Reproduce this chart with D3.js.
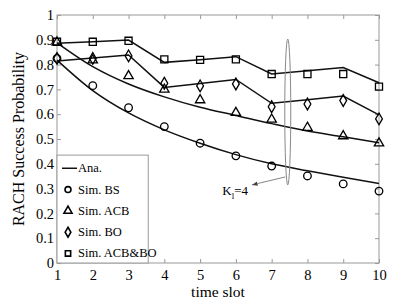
<!DOCTYPE html>
<html>
<head>
<meta charset="utf-8">
<script src="https://cdn.jsdelivr.net/npm/d3@7"></script>
<style>
body { margin: 0; background: #fff; }
svg text { font-family: "Times New Roman", "Liberation Serif", "DejaVu Serif", serif !important; }
</style>
</head>
<body>
<div id="chart"></div>
<script>
var slots = [1, 2, 3, 4, 5, 6, 7, 8, 9, 10];

// analytical curves
var anaBS     = [0.818, 0.695, 0.605, 0.537, 0.483, 0.437, 0.400, 0.372, 0.346, 0.321];
var anaACB    = [0.888, 0.792, 0.722, 0.670, 0.628, 0.595, 0.562, 0.532, 0.509, 0.485];
var anaBO     = [0.815, 0.827, 0.839, 0.708, 0.724, 0.740, 0.644, 0.658, 0.673, 0.597];
var anaACBBO  = [0.886, 0.892, 0.899, 0.809, 0.820, 0.832, 0.762, 0.775, 0.788, 0.727];

// simulation points
var simBS     = [0.825, 0.715, 0.626, 0.550, 0.483, 0.432, 0.391, 0.351, 0.319, 0.290];
var simACB    = [0.890, 0.818, 0.754, 0.700, 0.657, 0.606, 0.579, 0.546, 0.512, 0.483];
var simBO     = [0.825, 0.825, 0.835, 0.725, 0.714, 0.722, 0.630, 0.641, 0.655, 0.581];
var simACBBO  = [0.892, 0.892, 0.896, 0.821, 0.819, 0.821, 0.762, 0.762, 0.762, 0.711];

var yTicks = [0, 0.1, 0.2, 0.3, 0.4, 0.5, 0.6, 0.7, 0.8, 0.9, 1];
var legendNames = ["Ana.", "Sim. BS", "Sim. ACB", "Sim. BO", "Sim. ACB&BO"];

var margin = {top: 15, right: 36, bottom: 42, left: 57},
    width = 415 - margin.left - margin.right,
    height = 305 - margin.top - margin.bottom;

var x = d3.scaleLinear().domain([1, 10]).range([0, width]);
var y = d3.scaleLinear().domain([0, 1]).range([height, 0]);

var svg = d3.select("#chart").append("svg")
    .attr("width", 415)
    .attr("height", 305)
    .style("font-family", "Times New Roman, Liberation Serif, serif")
  .append("g")
    .attr("transform", "translate(" + margin.left + "," + margin.top + ")");

// box
svg.append("rect")
    .attr("width", width)
    .attr("height", height)
    .style("fill", "none")
    .style("stroke", "#999")
    .style("stroke-width", 1);

// axes (ticks pointing inward)
var xAxis = svg.append("g")
    .attr("transform", "translate(0," + height + ")")
    .call(d3.axisBottom(x).tickValues(slots).tickFormat(d3.format("d")).tickSizeInner(-4).tickSizeOuter(0).tickPadding(7));
var xTop = svg.append("g")
    .call(d3.axisTop(x).tickValues(slots).tickSizeInner(-4).tickSizeOuter(0).tickFormat(""));
var yAxis = svg.append("g")
    .call(d3.axisLeft(y).tickValues(yTicks).tickFormat(function(d) { return d === 0 || d === 1 ? d : d.toFixed(1); }).tickSizeInner(-4).tickSizeOuter(0).tickPadding(3));
var yRight = svg.append("g")
    .attr("transform", "translate(" + width + ",0)")
    .call(d3.axisRight(y).tickValues(yTicks).tickSizeInner(-4).tickSizeOuter(0).tickFormat(""));

[xAxis, xTop, yAxis, yRight].forEach(function(a) {
  a.attr("font-family", null);
  a.select(".domain").remove();
  a.selectAll("line").style("stroke", "#999");
  a.selectAll("text").style("font-size", "14.5px").style("fill", "#000");
});

// axis labels
svg.append("text")
    .attr("x", width / 2)
    .attr("y", height + 34)
    .attr("text-anchor", "middle")
    .style("font-size", "15.5px")
    .text("time slot");

svg.append("text")
    .attr("transform", "translate(-33," + (height / 2) + ") rotate(-90)")
    .attr("text-anchor", "middle")
    .style("font-size", "16px")
    .text("RACH Success Probability");

// analytical lines
var smooth = d3.line()
    .x(function(d, i) { return x(slots[i]); })
    .y(function(d) { return y(d); })
    .curve(d3.curveMonotoneX);
var straight = d3.line()
    .x(function(d, i) { return x(slots[i]); })
    .y(function(d) { return y(d); });

[[anaBS, smooth], [anaACB, smooth], [anaBO, straight], [anaACBBO, straight]].forEach(function(p) {
  svg.append("path")
      .datum(p[0])
      .attr("d", p[1])
      .style("fill", "none")
      .style("stroke", "#111")
      .style("stroke-width", 1.5);
});

// markers
var sym = {
  circle: d3.symbol().type(d3.symbolCircle).size(45),
  triangle: d3.symbol().type(d3.symbolTriangle).size(38),
  diamond: d3.symbol().type(d3.symbolDiamond).size(40),
  square: d3.symbol().type(d3.symbolSquare).size(50)
};

function drawMarkers(data, s) {
  svg.append("g").selectAll("path")
    .data(data)
    .enter().append("path")
      .attr("d", s)
      .attr("transform", function(d, i) { return "translate(" + x(slots[i]) + "," + y(d) + ")"; })
      .style("fill", "none")
      .style("stroke", "#000")
      .style("stroke-width", 1.3);
}
drawMarkers(simBS, sym.circle);
drawMarkers(simACB, sym.triangle);
drawMarkers(simBO, sym.diamond);
drawMarkers(simACBBO, sym.square);

// annotation: ellipse + arrow + K_l=4
svg.append("ellipse")
    .attr("cx", x(7.45))
    .attr("cy", (y(0.903) + y(0.315)) / 2)
    .attr("rx", 3)
    .attr("ry", (y(0.315) - y(0.903)) / 2)
    .style("fill", "none")
    .style("stroke", "#888")
    .style("stroke-width", 1);

svg.append("defs").append("marker")
    .attr("id", "arr")
    .attr("viewBox", "0 0 10 10")
    .attr("refX", 10).attr("refY", 5)
    .attr("markerWidth", 7).attr("markerHeight", 7)
    .attr("orient", "auto")
  .append("path")
    .attr("d", "M0,1L10,5L0,9z")
    .style("fill", "#444");

svg.append("line")
    .attr("x1", x(7.38)).attr("y1", y(0.347))
    .attr("x2", x(6.45)).attr("y2", y(0.315))
    .style("stroke", "#666")
    .style("stroke-width", 0.8)
    .attr("marker-end", "url(#arr)");

var kl = svg.append("text")
    .attr("x", x(5.62))
    .attr("y", y(0.275))
    .style("font-size", "13px");
kl.append("tspan").text("K");
kl.append("tspan").attr("dy", 4).style("font-size", "9px").text("l");
kl.append("tspan").attr("dy", -4).text("=4");

// legend
var lg = svg.append("g");
lg.append("rect")
    .attr("x", 0)
    .attr("y", y(0.435))
    .attr("width", x(3.55))
    .attr("height", height - y(0.435))
    .style("fill", "#fff")
    .style("stroke", "#999");

var legSyms = [null, sym.circle, sym.triangle, sym.diamond, sym.square];
legendNames.forEach(function(name, i) {
  var ly = y(0.382) + i * 21.3;
  if (i === 0) {
    lg.append("line")
        .attr("x1", 5).attr("x2", 20)
        .attr("y1", ly).attr("y2", ly)
        .style("stroke", "#111").style("stroke-width", 1.5);
  } else {
    lg.append("path")
        .attr("d", legSyms[i].size(28))
        .attr("transform", "translate(11," + ly + ")")
        .style("fill", "none")
        .style("stroke", "#000")
        .style("stroke-width", 1.6);
  }
  lg.append("text")
      .attr("x", 21)
      .attr("y", ly + 4)
      .style("font-size", "12.5px")
      .text(name);
});
</script>
</body>
</html>
